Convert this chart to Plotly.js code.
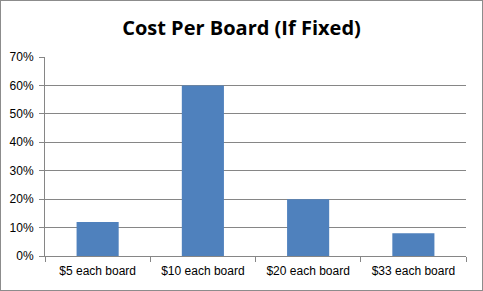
<!DOCTYPE html>
<html><head><meta charset="utf-8">
<script src="https://cdn.plot.ly/plotly-3.0.1.min.js"></script>
<style>
html,body{margin:0;padding:0;background:#fff;}
#wrap{width:481px;height:289px;border:1px solid #8c8c8c;}
#chart{width:481px;height:289px;}
</style></head><body>
<div id="wrap"><div id="chart"></div></div>
<script>
const categories = ["$5 each board", "$10 each board", "$20 each board", "$33 each board"];
const shares = [0.12, 0.60, 0.20, 0.08];
const yTickVals = [0, 0.1, 0.2, 0.3, 0.4, 0.5, 0.6, 0.7];
const yTickText = ["0%", "10%", "20%", "30%", "40%", "50%", "60%", "70%"];

Plotly.newPlot('chart', [{
  type: 'bar', x: categories, y: shares,
  marker: {color: '#4f81bd'}, hoverinfo: 'none'
}], {
  width: 481, height: 289,
  margin: {l: 44, r: 16, t: 56, b: 34},
  paper_bgcolor: '#fff', plot_bgcolor: '#fff',
  bargap: 0.6, showlegend: false,
  title: {text: 'Cost Per Board (If Fixed)', x: 0.5, xanchor: 'center', y: 0.905, yanchor: 'middle',
    font: {family: 'Open Sans, Liberation Sans, sans-serif', size: 20, color: '#000', weight: 'bold'}},
  xaxis: {type: 'category', showgrid: false, showline: true, linecolor: '#868686', linewidth: 1,
    ticks: 'outside', tickson: 'boundaries', ticklen: 5, tickcolor: '#868686', ticklabelstandoff: 4,
    tickfont: {family: 'Liberation Sans, Arial, sans-serif', size: 12, color: '#000'}, fixedrange: true},
  yaxis: {range: [0, 0.7], tickvals: yTickVals, ticktext: yTickText, showgrid: true, gridcolor: '#868686', gridwidth: 1,
    showline: true, linecolor: '#868686', ticks: 'outside', ticklen: 5, tickcolor: '#868686', zeroline: false,
    ticklabelstandoff: 3,
    tickfont: {family: 'Liberation Sans, Arial, sans-serif', size: 12, color: '#000'}, fixedrange: true}
}, {displayModeBar: false, staticPlot: true});
</script></body></html>
